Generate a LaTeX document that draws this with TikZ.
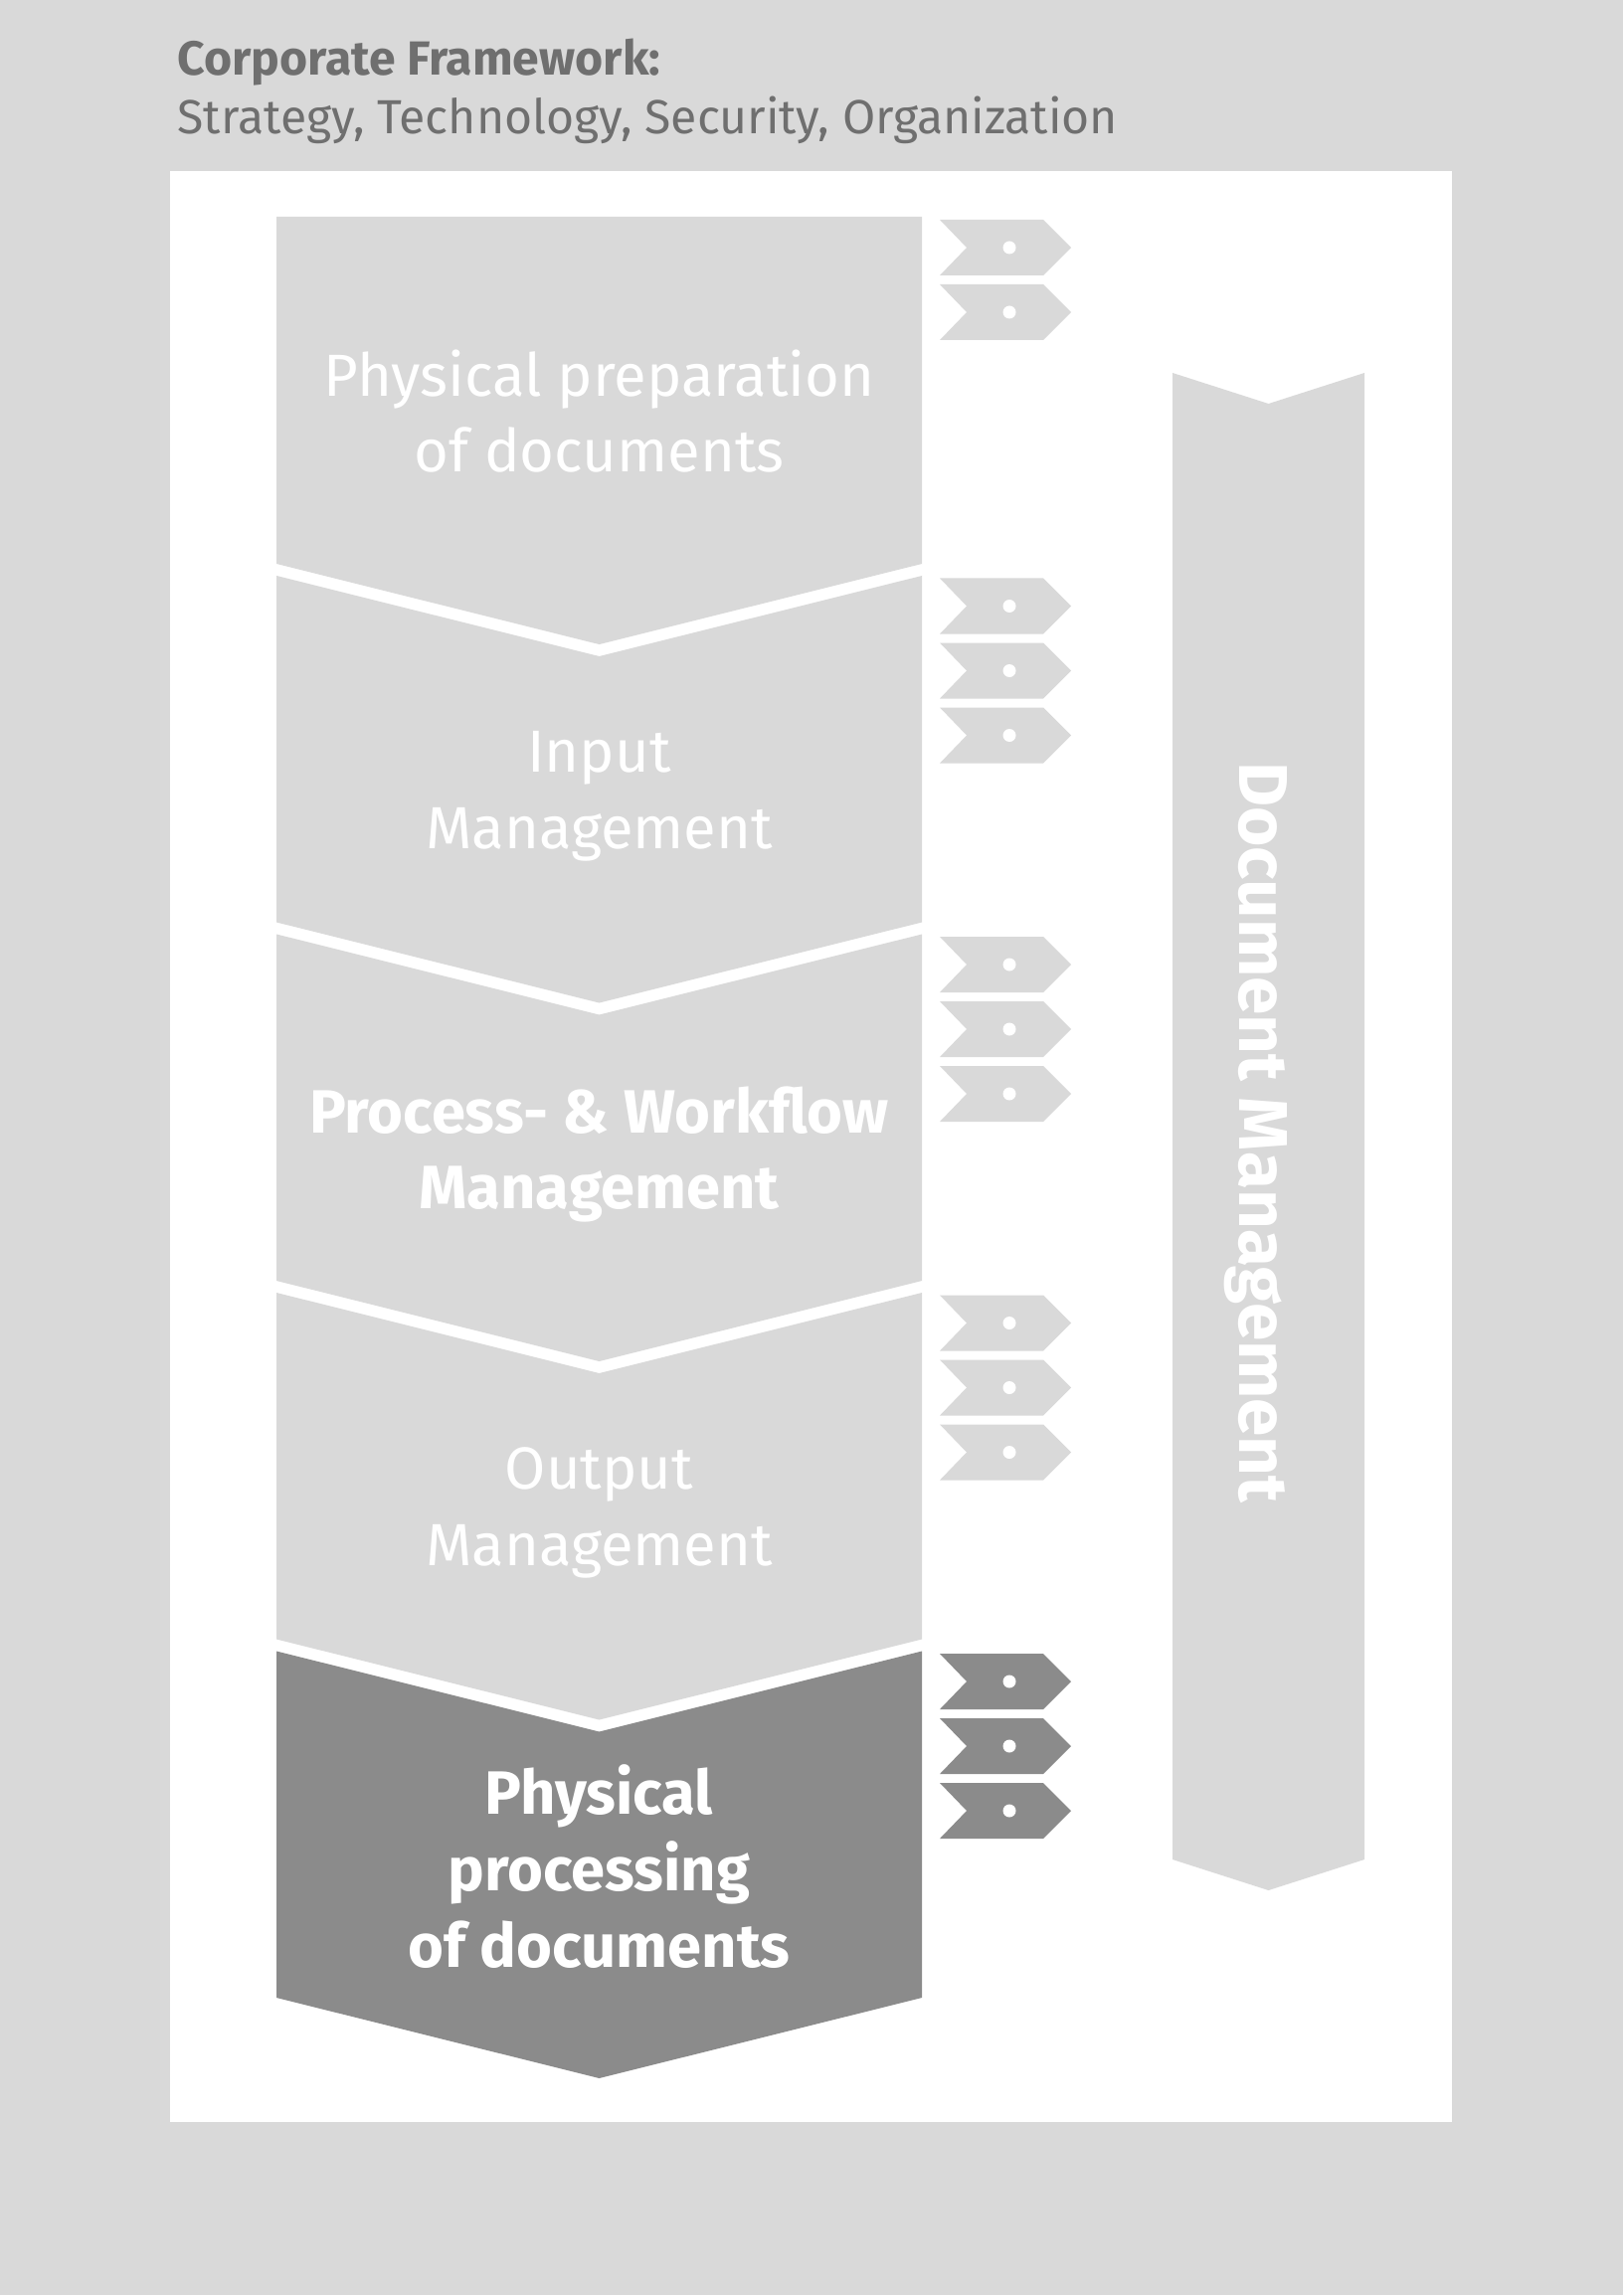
\documentclass[tikz,border=0pt]{standalone}
\usepackage{fontspec}
\setmainfont{Fira Sans}
\usepackage{tikz}
\usetikzlibrary{positioning}
\definecolor{bgGray}{HTML}{D9D9D9}
\definecolor{txtGray}{HTML}{6F6F6F}
\definecolor{darkGray}{HTML}{8B8B8B}

\begin{document}
\begin{tikzpicture}[x=0.1mm, y=-0.1mm,
  head/.style={anchor=base west, text=txtGray, inner sep=0pt, font=\fontsize{13.7}{16}\selectfont},
  lbl/.style={text=white, align=center, font=\fontsize{17}{21.8}\selectfont},
  lblb/.style={text=white, align=center, font=\fontsize{17.5}{21.8}\selectfont\bfseries},
  tagarrow/.pic={
    \fill[pic actions] (0,-28) -- (104,-28) -- (132,0) -- (104,28) -- (0,28) -- (27,0) -- cycle;
    \fill[white] (70,0) circle[radius=6.5];}]
% page and frame
\fill[bgGray] (0,0) rectangle (1632,2308);
\fill[white] (171,172) rectangle (1460,2134);
\node[head, font=\fontsize{13.7}{16}\selectfont\bfseries] (corp) at (178,76) {Corporate Framework:};
\node[head] (aspects) at (178,135) {Strategy, Technology, Security, Organization};

% process chevrons
\fill[bgGray] (278,218) -- (927,218) -- (927,567) -- (602.5,648) -- (278,567) -- cycle;
\fill[bgGray] (278,579) -- (602.5,660) -- (927,579) -- (927,927.5) -- (602.5,1008.5) -- (278,927.5) -- cycle;
\fill[bgGray] (278,939.5) -- (602.5,1020.5) -- (927,939.5) -- (927,1288) -- (602.5,1369) -- (278,1288) -- cycle;
\fill[bgGray] (278,1300) -- (602.5,1381) -- (927,1300) -- (927,1648.5) -- (602.5,1729.5) -- (278,1648.5) -- cycle;
\fill[darkGray] (278,1660.5) -- (602.5,1741.5) -- (927,1660.5) -- (927,2009) -- (602.5,2090) -- (278,2009) -- cycle;

\node[lbl] (prep) at (602.5,413.5) {Physical preparation\\of documents};
\node[lbl] (input) at (602.5,801) {Input\\Management};
\node[lblb] (flow) at (602.5,1161) {Process- \& Workflow\\Management};
\node[lbl] (output) at (602.5,1521.5) {Output\\Management};
\node[lblb] (phys) at (602.5,1877) {Physical\\processing\\of documents};

% document management band
\fill[bgGray] (1179,375) -- (1275.5,406) -- (1372,375) -- (1372,1870) -- (1275.5,1901) -- (1179,1870) -- cycle;
\node[text=white, font=\fontsize{19.7}{24}\selectfont\bfseries, rotate=-90] (docm) at (1263,1139) {Document Management};

% small tags
\pic[fill=bgGray] (t01) at (945,249) {tagarrow};
\pic[fill=bgGray] (t02) at (945,314) {tagarrow};
\pic[fill=bgGray] (t11) at (945,609.5) {tagarrow};
\pic[fill=bgGray] (t12) at (945,674.5) {tagarrow};
\pic[fill=bgGray] (t13) at (945,739.5) {tagarrow};
\pic[fill=bgGray] (t21) at (945,970) {tagarrow};
\pic[fill=bgGray] (t22) at (945,1035) {tagarrow};
\pic[fill=bgGray] (t23) at (945,1100) {tagarrow};
\pic[fill=bgGray] (t31) at (945,1330.5) {tagarrow};
\pic[fill=bgGray] (t32) at (945,1395.5) {tagarrow};
\pic[fill=bgGray] (t33) at (945,1460.5) {tagarrow};
\pic[fill=darkGray] (t41) at (945,1691) {tagarrow};
\pic[fill=darkGray] (t42) at (945,1756) {tagarrow};
\pic[fill=darkGray] (t43) at (945,1821) {tagarrow};
\end{tikzpicture}
\end{document}
